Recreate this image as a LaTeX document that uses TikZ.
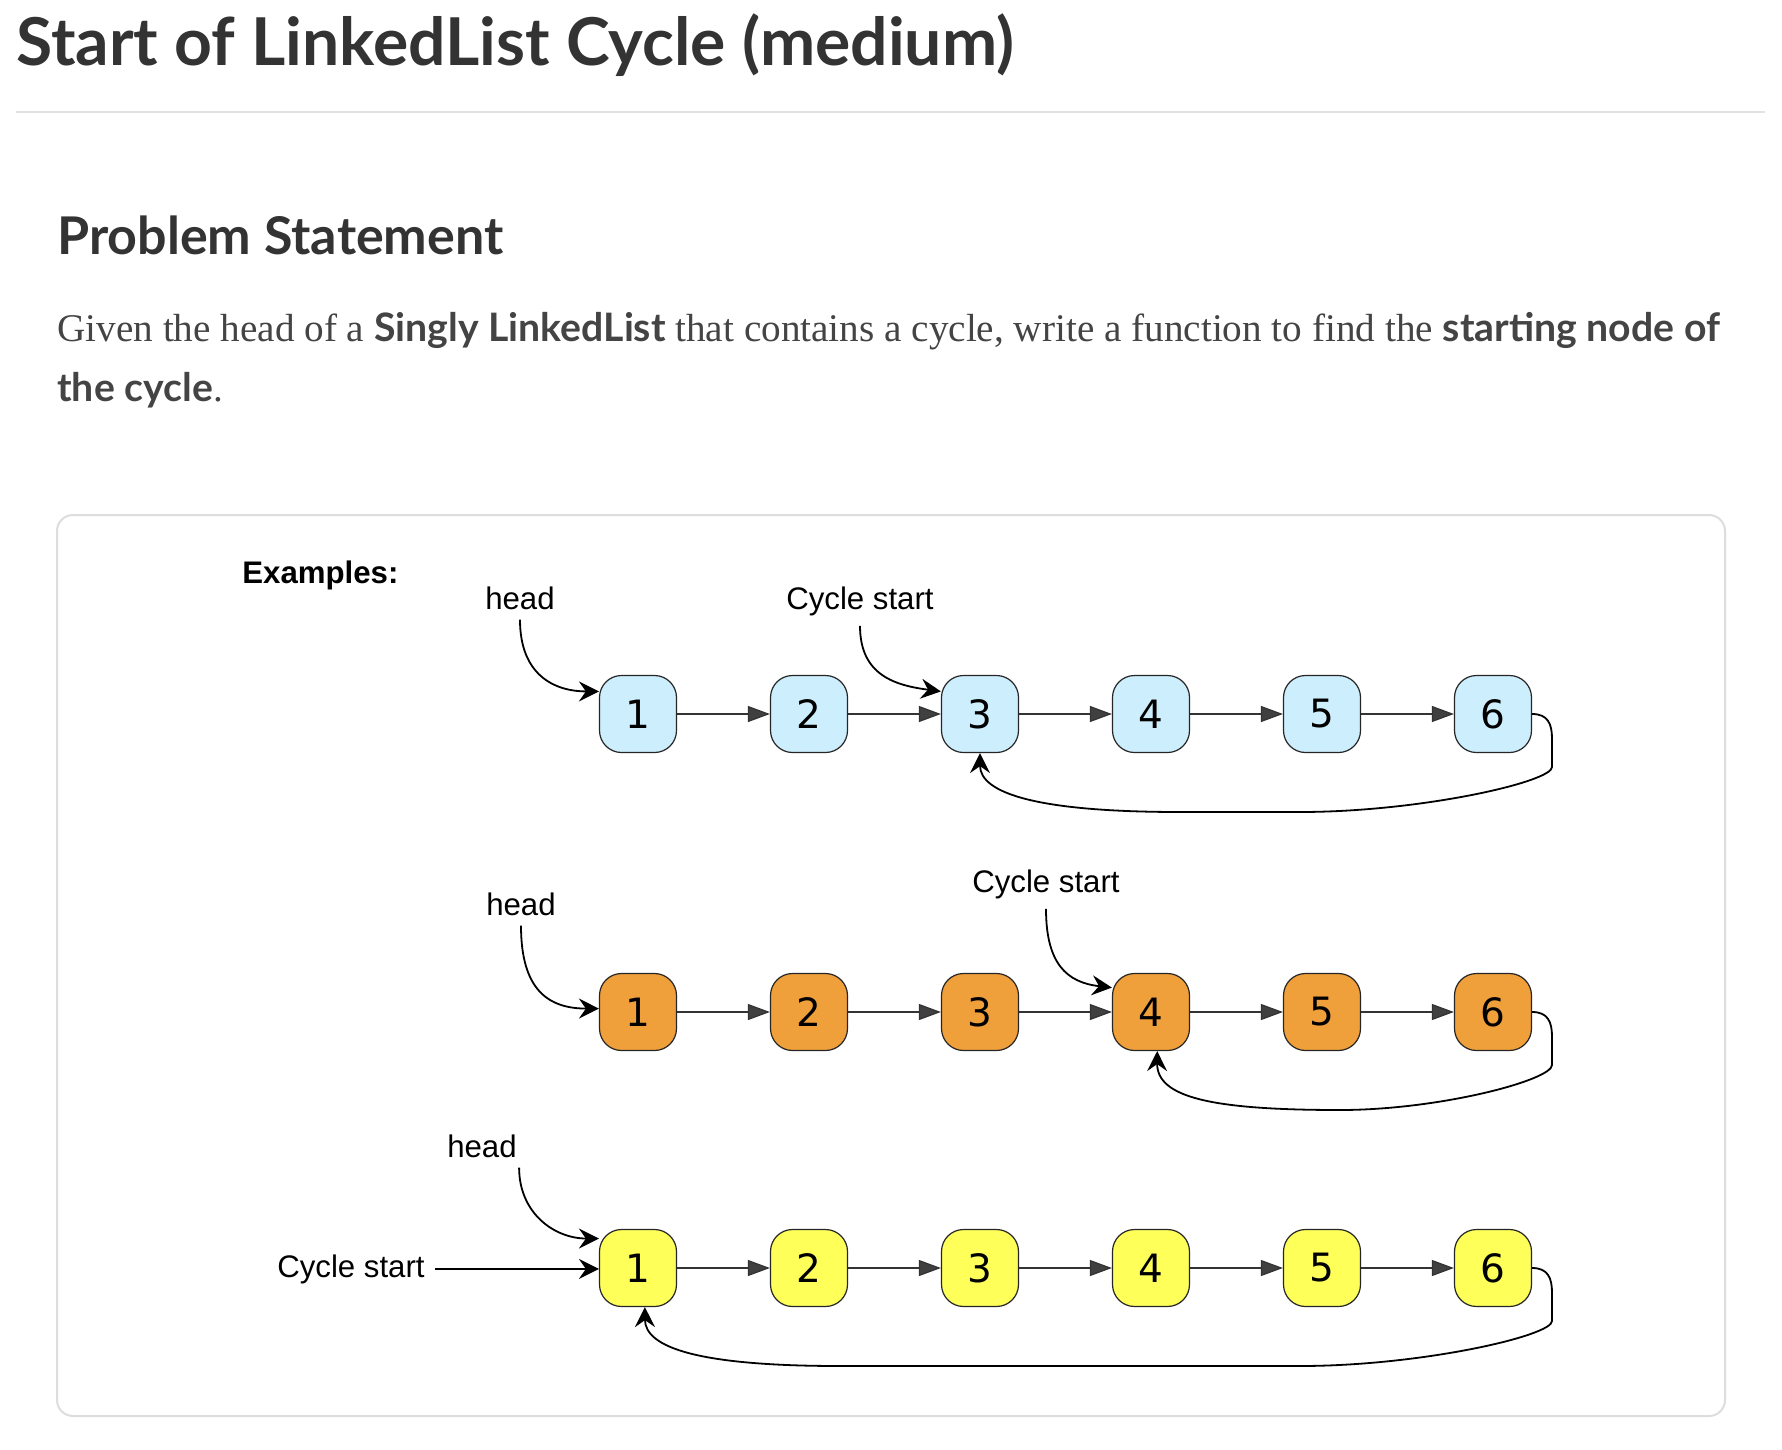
\documentclass[tikz,border=0pt]{standalone}
\usepackage{fontspec}
\setmainfont{Liberation Serif}
\newfontfamily\latofont{Lato}
\newfontfamily\labelfont{Liberation Sans}
\newfontfamily\digitfont{DejaVu Sans}
\usetikzlibrary{arrows.meta}

\definecolor{pagetext}{HTML}{333333}
\definecolor{bodytext}{HTML}{444444}
\definecolor{rulegray}{HTML}{E2E2E2}
\definecolor{boxgray}{HTML}{DDDDDD}
\definecolor{listblue}{HTML}{CDEEFC}
\definecolor{listorange}{HTML}{F0A03A}
\definecolor{listyellow}{HTML}{FFFF5A}
\definecolor{tipgray}{HTML}{404040}

\tikzset{
  listnode/.style={draw=black!85, line width=0.6pt, rounded corners=11pt,
    minimum size=38.5pt, inner sep=0pt,
    font=\digitfont\fontsize{19.5}{21}\selectfont},
  nextlink/.style={draw=black!80, line width=0.6pt,
    -{Triangle[length=11pt,width=8pt,fill=tipgray]}},
  pointer/.style={line width=0.9pt, -{Stealth[length=10pt,width=10pt,inset=3.5pt]}},
  ptrlabel/.style={anchor=base, inner sep=5pt,
    font=\labelfont\fontsize{15.6}{18}\selectfont},
}

\begin{document}
\begin{tikzpicture}[x=0.5pt,y=0.5pt]
 \path[use as bounding box,fill=white] (0,0) rectangle (1782,-1450);
 % page heading
 \node[anchor=base west,inner sep=0pt,text=pagetext,font=\latofont\bfseries\fontsize{33}{40}\selectfont] (title) at (16,-66) {Start of LinkedList Cycle (medium)};
 \draw[rulegray,line width=1pt] (16,-112) -- (1765,-112);
 \node[anchor=base west,inner sep=0pt,text=pagetext,font=\latofont\bfseries\fontsize{26}{30}\selectfont] (problem) at (57,-254) {Problem Statement};
 \node[anchor=base west,inner sep=0pt,text=bodytext,font=\fontsize{19.6}{22}\selectfont] (line1) at (57,-341) {Given the head of a {\latofont\bfseries Singly LinkedList} that contains a cycle, write a function to find the {\latofont\bfseries starting node of}};
 \node[anchor=base west,inner sep=0pt,text=bodytext,font=\fontsize{19.6}{22}\selectfont] (line2) at (57,-401) {{\latofont\bfseries the cycle}.};

 % examples box
 \draw[boxgray,line width=1pt,rounded corners=8pt] (57,-515) rectangle (1725,-1416);
 \node[anchor=base west,inner sep=0pt,font=\labelfont\bfseries\fontsize{15.6}{18}\selectfont] (examples) at (242,-583) {Examples:};

 % the three lists
 \foreach \i/\x in {1/638,2/809,3/980,4/1151,5/1322,6/1493} {
   \node[listnode,fill=listblue] (a\i) at (\x,-714) {\i};
   \node[listnode,fill=listorange] (b\i) at (\x,-1012) {\i};
   \node[listnode,fill=listyellow] (c\i) at (\x,-1268) {\i};
 }
 \foreach \i [count=\j from 2] in {1,...,5} {
   \draw[nextlink] (a\i.east) -- (a\j.west);
   \draw[nextlink] (b\i.east) -- (b\j.west);
   \draw[nextlink] (c\i.east) -- (c\j.west);
 }

 % first example
 \node[ptrlabel] (head1) at (520,-609) {head};
 \node[ptrlabel] (start1) at (860,-609) {Cycle start};
 \draw[pointer] (head1.south) .. controls +(0,-55) and +(-45,0) .. (a1.150);
 \draw[pointer] (start1.south) .. controls +(0,-50) and +(-45,6) .. (a3.150);
 \draw[pointer] (a6.east) .. controls (1548,-714) and (1552,-724) .. (1552,-739)
   -- (1552,-767) .. controls (1552,-782) and (1420,-812) .. (1300,-812)
   -- (1180,-812) .. controls (1040,-812) and (980,-794) .. (a3.south);

 % second example
 \node[ptrlabel] (head2) at (521,-915) {head};
 \node[ptrlabel] (start2) at (1046,-892) {Cycle start};
 \draw[pointer] (head2.south) .. controls +(0,-65) and +(-50,0) .. (b1.175);
 \draw[pointer] (start2.south) .. controls +(0,-55) and +(-45,5) .. (b4.148);
 \draw[pointer] (b6.east) .. controls (1548,-1012) and (1552,-1022) .. (1552,-1037)
   -- (1552,-1065) .. controls (1552,-1080) and (1440,-1110) .. (1340,-1110)
   .. controls (1210,-1110) and (1157,-1097) .. (b4.-81);

 % third example
 \node[ptrlabel] (head3) at (482,-1157) {head};
 \node[ptrlabel] (start3) at (351,-1277) {Cycle start};
 \draw[pointer] ([xshift=-4pt]head3.south east) .. controls +(0,-45) and +(-45,0) .. (c1.143);
 \draw[pointer] (start3.east) -- (start3.east -| c1.west);
 \draw[pointer] (c6.east) .. controls (1548,-1268) and (1552,-1278) .. (1552,-1293)
   -- (1552,-1321) .. controls (1552,-1336) and (1420,-1366) .. (1300,-1366)
   -- (840,-1366) .. controls (700,-1366) and (645,-1348) .. (c1.-80);
\end{tikzpicture}
\end{document}
